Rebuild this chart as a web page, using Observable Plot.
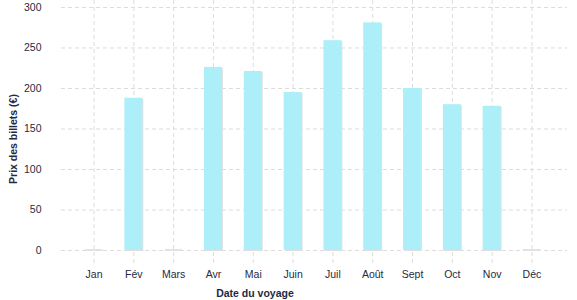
<!DOCTYPE html>
<html>
<head>
<meta charset="utf-8">
<script src="https://cdn.jsdelivr.net/npm/d3@7"></script>
<script src="https://cdn.jsdelivr.net/npm/@observablehq/plot@0.6"></script>
<style>
  html, body { margin: 0; padding: 0; background: #fff; }
  #chart svg { display: block; }
</style>
</head>
<body>
<div id="chart"></div>
<script>
const months = ["Jan", "Fév", "Mars", "Avr", "Mai", "Juin", "Juil", "Août", "Sept", "Oct", "Nov", "Déc"];
const prices = [1, 188, 1, 226, 221, 195, 259, 281, 200, 180, 178, 1];
const yTicks = [0, 50, 100, 150, 200, 250, 300];

const data = months.map((m, i) => ({ month: m, price: prices[i] }));
const textColor = "#1f2a44";
const gridColor = "#dcdcdc";

const chart = Plot.plot({
  width: 577,
  height: 300,
  marginLeft: 61,
  marginRight: 10,
  marginTop: 0,
  marginBottom: 35,
  style: { fontFamily: "Liberation Sans, Arial, sans-serif", fontSize: "10.5px", color: textColor, background: "#fff" },
  x: { domain: months, paddingInner: 0.55, paddingOuter: 0.63, align: 0.47, round: false, axis: null },
  y: { domain: [-18.5, 308.6], axis: null },
  marks: [
    Plot.gridX({ stroke: gridColor, strokeOpacity: 1, strokeDasharray: "4,3" }),
    Plot.gridY(yTicks, { stroke: gridColor, strokeOpacity: 1, strokeDasharray: "4,3" }),
    Plot.barY(data, { x: "month", y: "price", fill: "#e0e0e0", dx: 1, dy: 1 }),
    Plot.barY(data, { x: "month", y: "price", fill: "#adeff9" }),
    Plot.axisY(yTicks, { tickSize: 0, tickPadding: 20, label: null, fill: textColor }),
    Plot.axisX({ tickSize: 0, tickPadding: 5, label: null, fill: textColor })
  ]
});

const svg = d3.select(chart);
svg.append("text")
  .attr("x", 255).attr("y", 297)
  .attr("text-anchor", "middle")
  .attr("font-weight", "bold")
  .attr("font-size", "10.5px")
  .attr("fill", textColor)
  .text("Date du voyage");
svg.append("text")
  .attr("transform", "translate(17,139) rotate(-90)")
  .attr("text-anchor", "middle")
  .attr("font-weight", "bold")
  .attr("font-size", "10.5px")
  .attr("fill", textColor)
  .text("Prix des billets (€)");

document.getElementById("chart").appendChild(chart);
</script>
</body>
</html>
